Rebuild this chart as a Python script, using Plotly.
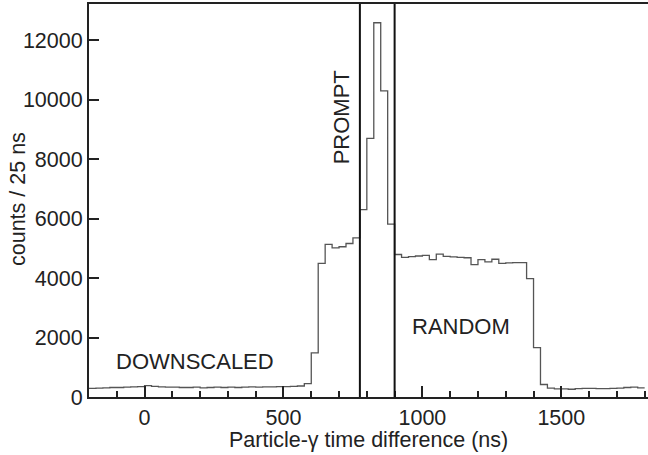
import numpy as np
import plotly.graph_objects as go

# ---- data ----
bin_width = 25
bin_start = -200
counts = [
    290, 300, 310, 320, 320, 330, 340, 350, 380, 360, 340, 330, 330, 320, 320, 330,
    310, 320, 330, 320, 330, 320, 330, 340, 330, 340, 340, 350, 350, 360, 370, 450,
    1480, 4490, 5130, 5010, 5050, 5160, 5350, 6300, 8690, 12580, 10290, 5810,
    4790, 4690, 4720, 4740, 4760, 4620, 4800, 4730, 4710, 4690, 4680, 4450,
    4620, 4540, 4630, 4490, 4510, 4520, 4520, 3980,
    1660, 420, 300, 270, 270, 260, 280, 290, 290, 280, 280, 290, 300, 320, 330, 310,
]
prompt_window = [775, 900]
x_ticks = [0, 500, 1000, 1500]
y_ticks = [0, 2000, 4000, 6000, 8000, 10000, 12000]
labels = {"PROMPT": (709, 9385), "DOWNSCALED": (180, 1180), "RANDOM": (1140, 2355)}

edges = bin_start + bin_width * np.arange(len(counts) + 1)
xs = list(edges)
ys = list(counts) + [counts[-1]]

FONT = "Liberation Sans, Arial, sans-serif"
TXT = "#222222"
fig = go.Figure()
fig.add_trace(go.Scatter(x=xs, y=ys, mode="lines", line=dict(shape="hv", color="#555555", width=1.3),
                         showlegend=False, hoverinfo="skip"))

for xv in prompt_window:
    fig.add_shape(type="line", xref="x", yref="paper", x0=xv, x1=xv, y0=0, y1=1,
                  line=dict(color="#111111", width=2))

fig.add_annotation(x=labels["PROMPT"][0], y=labels["PROMPT"][1], text="PROMPT", textangle=-90,
                   showarrow=False, font=dict(size=22, color=TXT, family=FONT))
fig.add_annotation(x=labels["DOWNSCALED"][0], y=labels["DOWNSCALED"][1], text="DOWNSCALED",
                   showarrow=False, font=dict(size=22, color=TXT, family=FONT))
fig.add_annotation(x=labels["RANDOM"][0], y=labels["RANDOM"][1], text="RANDOM",
                   showarrow=False, font=dict(size=22, color=TXT, family=FONT))

# axis titles
fig.add_annotation(xref="paper", yref="paper", x=(368.5 - 89) / 559, y=(397 - 440) / 393,
                   text="Particle-γ time difference (ns)", showarrow=False,
                   xanchor="center", yanchor="middle", font=dict(size=21.5, color=TXT, family=FONT))
fig.add_annotation(xref="paper", yref="paper", x=(18 - 89) / 559, y=(397 - 199) / 393,
                   text="counts / 25 ns", textangle=-90, showarrow=False,
                   xanchor="center", yanchor="middle", font=dict(size=21.5, color=TXT, family=FONT))

fig.update_layout(
    width=648, height=455,
    margin=dict(l=89, r=0, t=4, b=58),
    paper_bgcolor="white", plot_bgcolor="white",
    font=dict(family=FONT, size=22, color=TXT),
    xaxis=dict(range=[-200, 1812], tickvals=x_ticks, ticks="inside", ticklen=11, tickwidth=1.5,
               tickcolor=TXT, showline=True, linecolor=TXT, linewidth=2, mirror=True,
               showgrid=False, zeroline=False, tickformat="d",
               minor=dict(dtick=100, ticks="inside", ticklen=6, tickcolor=TXT, tick0=0),
               tickfont=dict(size=21.5)),
    yaxis=dict(range=[0, 13210], tickvals=y_ticks, ticks="inside", ticklen=10, tickwidth=1.5,
               tickcolor=TXT, showline=True, linecolor=TXT, linewidth=2,
               showgrid=False, zeroline=False, tickformat="d",
               tickfont=dict(size=21.5)),
)

fig.write_html("out.html")
